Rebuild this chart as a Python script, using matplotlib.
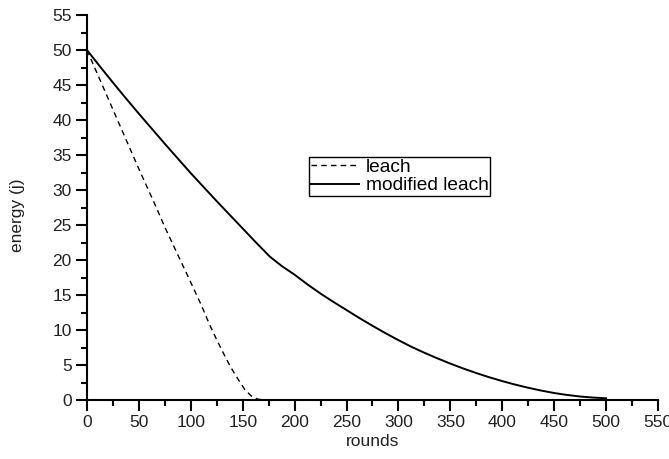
import matplotlib
matplotlib.use("Agg")
import matplotlib.pyplot as plt
from matplotlib.ticker import MultipleLocator

plt.rcParams['font.family'] = ['Liberation Sans', 'DejaVu Sans']

leach_x = [0, 10, 25, 50, 65, 75, 93, 100, 110, 118, 125, 130, 138, 145, 152, 158, 164, 170]
leach_y = [50, 46.6, 41.5, 33.0, 28.1, 24.7, 19.0, 16.8, 13.6, 10.8, 8.6, 7.1, 4.8, 3.1, 1.5, 0.6, 0.15, 0.0]

mod_x = [0, 12.5, 25, 37.5, 50, 62.5, 75, 87.5, 100, 112.5, 125, 137.5, 150, 162.5, 176,
         187.5, 200, 212.5, 225, 237.5, 250, 262.5, 275, 287.5, 300, 312.5, 325, 337.5,
         350, 362.5, 375, 387.5, 400, 412.5, 425, 437.5, 450, 462.5, 475, 487.5, 500]
mod_y = [50, 47.65, 45.35, 43.1, 40.9, 38.75, 36.6, 34.5, 32.4, 30.4, 28.4, 26.45, 24.5, 22.55, 20.5,
         19.15, 17.9, 16.5, 15.2, 14.0, 12.85, 11.7, 10.6, 9.55, 8.55, 7.6, 6.75, 5.95,
         5.2, 4.5, 3.85, 3.25, 2.7, 2.2, 1.75, 1.35, 1.0, 0.72, 0.5, 0.35, 0.25]

fig = plt.figure(figsize=(6.69, 4.59), dpi=100)
ax = fig.add_axes([0.130, 0.1285, 0.8536, 0.8388])

ax.plot(leach_x, leach_y, color='black', lw=1.0, linestyle=(0, (4, 3)), label='leach')
ax.plot(mod_x, mod_y, color='black', lw=1.4, linestyle='-', label='modified leach')

ax.set_xlim(0, 550)
ax.set_ylim(0, 55)
ax.xaxis.set_major_locator(MultipleLocator(50))
ax.xaxis.set_minor_locator(MultipleLocator(25))
ax.yaxis.set_major_locator(MultipleLocator(5))
ax.yaxis.set_minor_locator(MultipleLocator(2.5))

for s in ['top', 'right']:
    ax.spines[s].set_visible(False)
for s in ['left', 'bottom']:
    ax.spines[s].set_linewidth(1.5)

ax.tick_params(which='major', direction='out', length=8, width=1.5, labelsize=12.5, pad=3,
               labelcolor='#222222')
ax.tick_params(which='minor', direction='out', length=4, width=1.5)

ax.set_xlabel('rounds', fontsize=12.5, labelpad=3, color='#222222')
ax.set_ylabel('energy (j)', fontsize=12.5, color='#222222')
ax.yaxis.set_label_coords(-0.108, 0.48)

leg = ax.legend(loc='upper left', bbox_to_anchor=(0.389, 0.632), fontsize=13.8,
                frameon=True, fancybox=False, framealpha=1, edgecolor='black',
                handlelength=2.5, handletextpad=0.35, borderpad=0.1, labelspacing=0.05,
                borderaxespad=0)
leg.get_frame().set_linewidth(1.0)

fig.savefig('out.png', dpi=100)
